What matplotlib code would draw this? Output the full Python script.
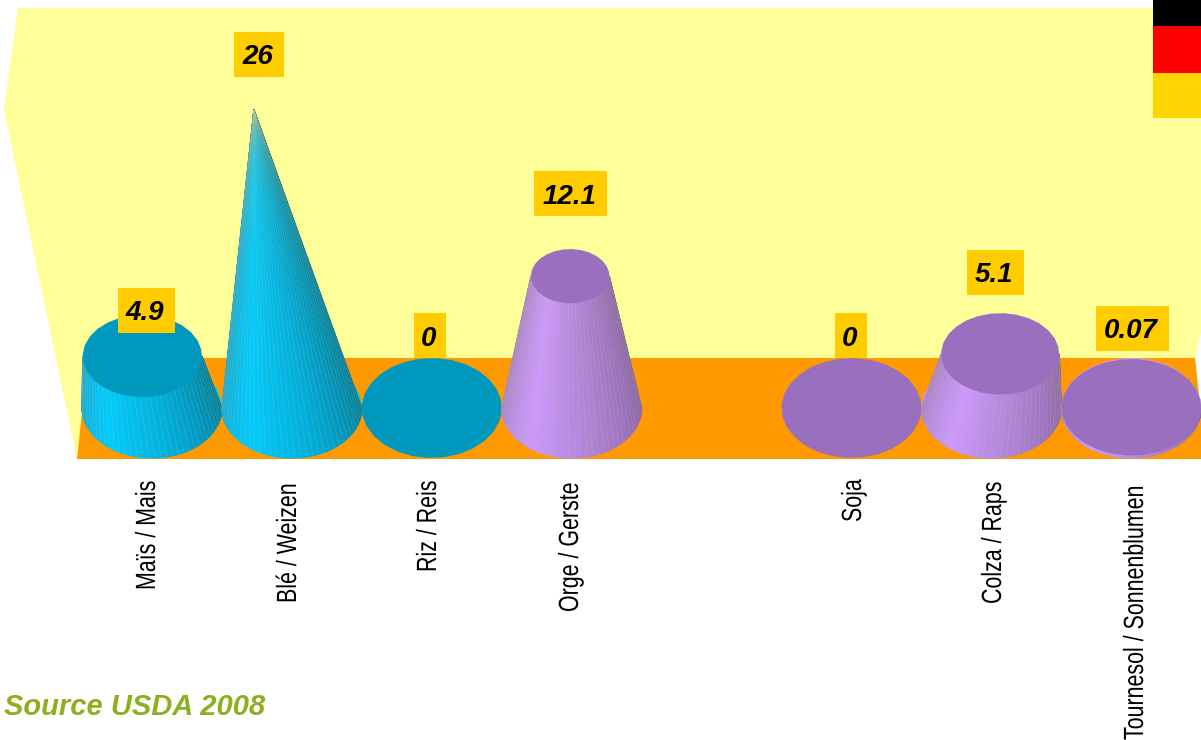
import numpy as np
import matplotlib
matplotlib.use("Agg")
import matplotlib.pyplot as plt
import matplotlib.patheffects as pe
from matplotlib.collections import PolyCollection, LineCollection
from matplotlib.patches import Polygon, Rectangle
from matplotlib.transforms import Affine2D
from matplotlib.colors import LinearSegmentedColormap

# ---- data ----
categories = ["Maïs / Mais", "Blé / Weizen", "Riz / Reis", "Orge / Gerste", "",
              "Soja", "Colza / Raps", "Tournesol / Sonnenblumen"]
values = [4.9, 26, 0, 12.1, None, 0, 5.1, 0.07]
value_labels = ["4.9", "26", "0", "12.1", "", "0", "5.1", "0.07"]
groups = ["cyan", "cyan", "cyan", "purple", None, "purple", "purple", "purple"]
source_text = "Source USDA 2008"

# ---- styling / layout (pixels in the 1201x740 picture) ----
W, H = 1201, 740
BASE_Y = 408
X0, DX = 152, 139.9
RX, RY_RATIO = 70, 0.714
label_box_centers = [(146.5, 310.5), (259, 54.5), (430, 335.5), (570.5, 193.5), None,
                     (851, 335.5), (995.5, 272.5), (1132.5, 328.5)]
label_box_widths = [57, 50, 32, 73, 0, 32, 57, 73]
tick_x = [148, 289, 429, 571, None, 854, 994, 1136]
tick_bottom = [590, 603, 572, 612, None, 522, 604, 740]
palette = {
    "cyan": dict(cap="#0099BD",
                 cmap=LinearSegmentedColormap.from_list(
                     "c", [(0, "#14A6D4"), (.3, "#00CCFF"), (.6, "#00AEDB"), (1, "#007A99")])),
    "purple": dict(cap="#9A70BE",
                   cmap=LinearSegmentedColormap.from_list(
                       "p", [(0, "#A882CC"), (.3, "#CC99FF"), (.6, "#AE82D4"), (1, "#8462A4")])),
}

fig = plt.figure(figsize=(W / 100, H / 100), dpi=100)
ax = fig.add_axes([0, 0, 1, 1])
px = Affine2D().scale(1, -1).translate(0, H)  # picture pixels -> display

A, B = 10.4, 0.0408


def fwd(v):
    v = np.asarray(v, dtype=float)
    return np.where(v >= 0, A * v + B * v ** 2, A * v)


def inv(h):
    h = np.asarray(h, dtype=float)
    return np.where(h >= 0, (-A + np.sqrt(A ** 2 + 4 * B * np.maximum(h, 0))) / (2 * B), h / A)


ax.set_yscale("function", functions=(fwd, inv))
ax.set_xlim(-X0 / DX, (W - X0) / DX)
ax.set_ylim(float(inv(BASE_Y - H)), float(inv(BASE_Y)))
ax.axis("off")


class Squeeze(pe.AbstractPathEffect):
    """Narrow a vertical text along its reading direction."""

    def __init__(self, s):
        super().__init__()
        self.s = s

    def draw_path(self, renderer, gc, tpath, affine, rgbFace=None):
        m = affine.get_matrix()
        x0, y0 = m[0, 2], m[1, 2]
        a = affine + Affine2D().translate(-x0, -y0).scale(1, self.s).translate(x0, y0)
        renderer.draw_path(gc, tpath, a, rgbFace)


# background
ax.add_patch(Polygon([(4, 110), (18, 8), (W, 8), (W, 333), (1195, 358), (1195, 459), (77, 459)],
                     closed=True, fc="#FFFF99", ec="none", transform=px, zorder=1))
ax.add_patch(Polygon([(77, 459), (88, 358), (1195, 358), (W, 413), (W, 459)],
                     closed=True, fc="#FF9900", ec="none", transform=px, zorder=2))
# flag
for y0, y1, col in [(0, 26, "#000000"), (26, 73, "#FF0000"), (73, 118, "#FFD400")]:
    ax.add_patch(Rectangle((1153, y0), W - 1153, y1 - y0, fc=col, ec="none", transform=px, zorder=3))


def ellipse_pts(cx, cy, rx, ry, ts):
    return np.column_stack([cx + rx * np.cos(ts), cy + ry * np.sin(ts)])


z = 4
for i, (v, grp) in enumerate(zip(values, groups)):
    if v is None:
        continue
    bx, by = ax.transData.transform((i, 0))
    tx, ty = ax.transData.transform((i, v))
    by, ty = H - by, H - ty  # picture y runs downward
    height = by - ty
    tx = tx + height * (bx - 600) * 0.000414
    rx_top = min(RX, 73.5 * (1 - v / 26))
    ry_top = 0.69 * rx_top
    ry_base = RX * RY_RATIO
    col = palette[grp]
    coarse = np.linspace(0, 2 * np.pi, 29)[:-1] + 0.06

    ax.add_patch(Polygon(ellipse_pts(bx, by, RX, ry_base, coarse), closed=True,
                         fc=col["cmap"](0.3) if v > 0 else col["cap"], ec="none", transform=px, zorder=z))
    z += 1
    if v > 0:
        n = 72
        ts = np.linspace(0, np.pi, n + 1)  # right -> left through the front
        low = ellipse_pts(bx, by, RX, ry_base, ts)
        up = ellipse_pts(tx, ty, rx_top, ry_top, ts)
        strips = [[low[k], low[k + 1], up[k + 1], up[k]] for k in range(n)]
        cols = [col["cmap"](1 - (k + .5) / n) for k in range(n)]
        coll = PolyCollection(strips, facecolors=cols, edgecolors=cols, linewidths=0.8,
                              transform=px, zorder=z)
        ax.add_collection(coll, autolim=False)
        z += 1
        seams = LineCollection([[low[k], up[k]] for k in range(1, n, 2)], colors="#C8C080",
                               linewidths=0.5, alpha=0.3, transform=px, zorder=z)
        ax.add_collection(seams, autolim=False)
        z += 1
    if rx_top > 0:
        ax.add_patch(Polygon(ellipse_pts(tx, ty, rx_top, ry_top, coarse), closed=True,
                             fc=col["cap"], ec="none", transform=px, zorder=z))
        z += 1

# value labels
for c, w, s in zip(label_box_centers, label_box_widths, value_labels):
    if c is None:
        continue
    ax.add_patch(Rectangle((c[0] - w / 2, c[1] - 22.5), w, 45, fc="#FFCC00", ec="none",
                           transform=px, zorder=50))
    ax.text(c[0] - 1.5, c[1], s, transform=px, ha="center", va="center_baseline", zorder=51,
            family="Liberation Sans", weight="bold", style="italic", fontsize=20, color="black")

# category labels
for name, x, yb in zip(categories, tick_x, tick_bottom):
    if x is None:
        continue
    t = ax.text(x, yb, name, transform=px, rotation=90, ha="center", va="bottom", zorder=51,
                family="Liberation Sans", fontsize=20, color="black")
    t.set_path_effects([Squeeze(0.77)])

ax.text(4, 715, source_text, transform=px, ha="left", va="baseline", zorder=51,
        family="Liberation Sans", weight="bold", style="italic", fontsize=21, color="#8DB020")

fig.savefig("out.png", dpi=100, facecolor="white")
